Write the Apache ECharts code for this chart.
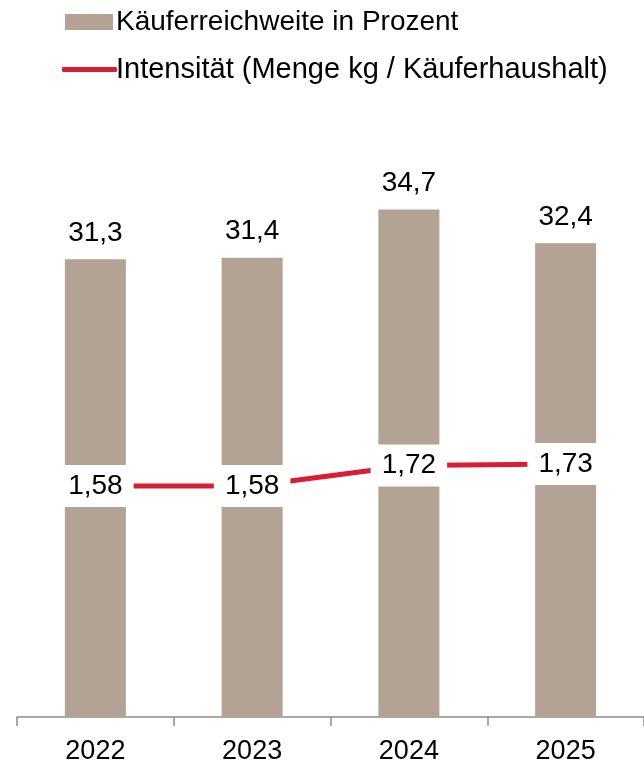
<!DOCTYPE html>
<html>
<head>
    <meta charset="utf-8">
    <title>Käuferreichweite</title>
    <script type="text/javascript" src="https://cdn.jsdelivr.net/npm/echarts@6/dist/echarts.min.js"></script>
    <style>
        html, body { margin: 0; padding: 0; background: #fff; }
    </style>
</head>
<body>
<div id="chart" style="width: 644px; height: 766px;"></div>
<script type="text/javascript">
    var years = ['2022', '2023', '2024', '2025'];
    var reichweite = [31.3, 31.4, 34.7, 32.4];
    var intensitaet = [1.58, 1.58, 1.72, 1.73];

    function comma(v) {
        return String(v).replace('.', ',');
    }

    var chart = echarts.init(document.getElementById('chart'));
    var font = '"Liberation Sans", Arial, sans-serif';

    var option = {
        animation: false,
        textStyle: { fontFamily: font },
        legend: [{
            left: 60,
            top: 3,
            itemWidth: 48,
            itemHeight: 16,
            itemGap: 0,
            textStyle: { fontSize: 28, color: '#000', fontFamily: font, padding: [0, 0, 0, -2] },
            data: [{ name: 'Käuferreichweite in Prozent', icon: 'rect' }]
        }, {
            left: 57,
            top: 50,
            itemWidth: 55,
            itemHeight: 5,
            itemGap: 0,
            textStyle: { fontSize: 29, color: '#000', fontFamily: font, padding: [0, 0, 0, -6] },
            data: [{ name: 'Intensität (Menge kg / Käuferhaushalt)', icon: 'roundRect' }]
        }],
        grid: {
            left: 17,
            right: -4,
            top: 132,
            bottom: 49
        },
        xAxis: {
            type: 'category',
            data: years,
            axisLine: { lineStyle: { color: '#8c8c8c', width: 1.5 } },
            axisTick: { show: true, length: 9, lineStyle: { color: '#8c8c8c', width: 1.5 } },
            axisLabel: { fontSize: 27, color: '#000', margin: 21, fontFamily: font }
        },
        yAxis: [{
            type: 'value',
            min: 0,
            max: 40,
            show: false
        }, {
            type: 'value',
            min: 0,
            max: 4,
            show: false
        }],
        series: [{
            name: 'Käuferreichweite in Prozent',
            type: 'bar',
            data: reichweite,
            barWidth: 61,
            itemStyle: { color: '#b3a395' },
            label: {
                show: true,
                position: 'top',
                distance: 12,
                fontSize: 28,
                color: '#000',
                fontFamily: font,
                formatter: function (p) { return comma(p.value); }
            }
        }, {
            name: 'Intensität (Menge kg / Käuferhaushalt)',
            type: 'line',
            yAxisIndex: 1,
            data: intensitaet,
            symbol: 'circle',
            symbolSize: 0.1,
            z: 5,
            lineStyle: { color: '#dc1c33', width: 5 },
            itemStyle: { color: '#dc1c33' },
            label: {
                show: true,
                position: 'inside',
                fontSize: 28,
                color: '#000',
                fontFamily: font,
                backgroundColor: '#fff',
                padding: [8, 11, 6, 11],
                formatter: function (p) { return comma(p.value); }
            }
        }]
    };

    chart.setOption(option);
</script>
</body>
</html>
